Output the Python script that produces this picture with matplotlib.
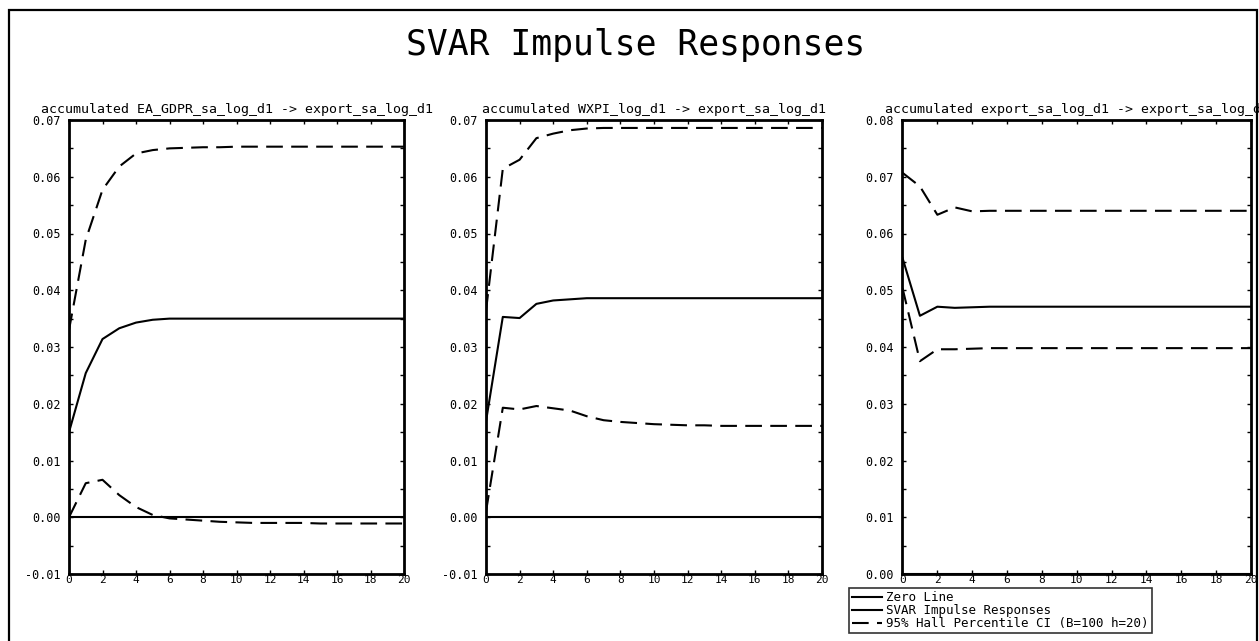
# -*- coding: utf-8 -*-
"""
SVAR impulse responses (accumulated), 3 panels
"""

import numpy as np
import matplotlib
matplotlib.use("Agg")
import matplotlib.pyplot as plt
from matplotlib.patches import Rectangle
from matplotlib.ticker import MultipleLocator, FormatStrFormatter

plt.rcParams['font.family'] = ['DejaVu Sans Mono', 'DejaVu Sans']

### data : horizon 0..20
horizon = list(range(21))

panel_titles = ["accumulated EA_GDPR_sa_log_d1 -> export_sa_log_d1",
                "accumulated WXPI_log_d1 -> export_sa_log_d1",
                "accumulated export_sa_log_d1 -> export_sa_log_d1"]

# 1) EA_GDPR -> export
irf_gdp = [0.0150, 0.0254, 0.0314, 0.0333, 0.0343, 0.0348, 0.0350, 0.0350, 0.0350, 0.0350,
           0.0350, 0.0350, 0.0350, 0.0350, 0.0350, 0.0350, 0.0350, 0.0350, 0.0350, 0.0350, 0.0350]
up_gdp = [0.0330, 0.0489, 0.0577, 0.0618, 0.0641, 0.0647, 0.0650, 0.0651, 0.0652, 0.0652,
          0.0653, 0.0653, 0.0653, 0.0653, 0.0653, 0.0653, 0.0653, 0.0653, 0.0653, 0.0653, 0.0653]
lo_gdp = [0.0000, 0.0060, 0.0066, 0.0039, 0.0018, 0.0004, -0.0002, -0.0004, -0.0006, -0.0008,
          -0.0009, -0.0010, -0.0010, -0.0010, -0.0010, -0.0011, -0.0011, -0.0011, -0.0011, -0.0011, -0.0011]

# 2) WXPI -> export
irf_wxpi = [0.0169, 0.0353, 0.0351, 0.0376, 0.0382, 0.0384, 0.0386, 0.0386, 0.0386, 0.0386,
            0.0386, 0.0386, 0.0386, 0.0386, 0.0386, 0.0386, 0.0386, 0.0386, 0.0386, 0.0386, 0.0386]
up_wxpi = [0.0364, 0.0614, 0.0630, 0.0668, 0.0676, 0.0682, 0.0685, 0.0686, 0.0686, 0.0686,
           0.0686, 0.0686, 0.0686, 0.0686, 0.0686, 0.0686, 0.0686, 0.0686, 0.0686, 0.0686, 0.0686]
lo_wxpi = [0.0010, 0.0193, 0.0190, 0.0196, 0.0192, 0.0188, 0.0178, 0.0171, 0.0168, 0.0166,
           0.0164, 0.0163, 0.0162, 0.0162, 0.0161, 0.0161, 0.0161, 0.0161, 0.0161, 0.0161, 0.0161]

# 3) export -> export
irf_exp = [0.0557, 0.0455, 0.0471, 0.0469, 0.0470, 0.0471, 0.0471, 0.0471, 0.0471, 0.0471,
           0.0471, 0.0471, 0.0471, 0.0471, 0.0471, 0.0471, 0.0471, 0.0471, 0.0471, 0.0471, 0.0471]
up_exp = [0.0707, 0.0683, 0.0633, 0.0646, 0.0639, 0.0640, 0.0640, 0.0640, 0.0640, 0.0640,
          0.0640, 0.0640, 0.0640, 0.0640, 0.0640, 0.0640, 0.0640, 0.0640, 0.0640, 0.0640, 0.0640]
lo_exp = [0.0504, 0.0375, 0.0396, 0.0396, 0.0397, 0.0398, 0.0398, 0.0398, 0.0398, 0.0398,
          0.0398, 0.0398, 0.0398, 0.0398, 0.0398, 0.0398, 0.0398, 0.0398, 0.0398, 0.0398, 0.0398]

irfs = [irf_gdp, irf_wxpi, irf_exp]
uppers = [up_gdp, up_wxpi, up_exp]
lowers = [lo_gdp, lo_wxpi, lo_exp]
ylims = [(-0.01, 0.07), (-0.01, 0.07), (0.0, 0.08)]

legend_labels = ["Zero Line", "SVAR Impulse Responses", "95% Hall Percentile CI (B=100 h=20)"]

### figure
W, H = 1259, 641
fig = plt.figure(figsize=(W / 100, H / 100), dpi=100)

# outer frame
fig.patches.append(Rectangle((9 / W, -0.02), (1257 - 9) / W, 1.02 - 10 / H,
                             transform=fig.transFigure, fill=False,
                             edgecolor="black", linewidth=1.6))

fig.text(0.505, 1 - 45 / H, "SVAR Impulse Responses", ha="center", va="center",
         fontsize=25)

# axes position (pixel)
lefts = [69, 486, 902.5]
widths = [335, 336, 348.5]
bottom = 1 - 574 / H
height = (574 - 120) / H

dash = (0, (8, 4))
for i in range(3):
    ax = fig.add_axes([lefts[i] / W, bottom, widths[i] / W, height])
    ax.plot(horizon, [0.0] * len(horizon), color="black", lw=1.5, label=legend_labels[0])
    ax.plot(horizon, irfs[i], color="black", lw=1.5, label=legend_labels[1])
    ax.plot(horizon, uppers[i], color="black", lw=1.5, ls=dash, label=legend_labels[2])
    ax.plot(horizon, lowers[i], color="black", lw=1.5, ls=dash)

    ax.set_xlim(0, 20)
    ax.set_ylim(*ylims[i])
    ax.xaxis.set_major_locator(MultipleLocator(2))
    ax.yaxis.set_major_locator(MultipleLocator(0.01))
    ax.yaxis.set_minor_locator(MultipleLocator(0.005))
    ax.yaxis.set_major_formatter(FormatStrFormatter("%.2f"))
    ax.tick_params(which="both", direction="in", top=True, right=True,
                   length=3, width=1, labelsize=8, pad=2)
    ax.tick_params(axis="y", labelsize=8.5, pad=6)
    ax.tick_params(axis="x", pad=1)
    for sp in ax.spines.values():
        sp.set_linewidth(2)
    ax.set_title(panel_titles[i], fontsize=9.5, pad=5)

    if i == 0:
        handles, labels = ax.get_legend_handles_labels()

# legend
leg = fig.legend(handles, labels, loc="upper left",
                 bbox_to_anchor=(849 / W, 1 - 588 / H),
                 fontsize=9, frameon=True, fancybox=False,
                 handlelength=2.4, handletextpad=0.3, borderpad=0.25,
                 labelspacing=0.0, borderaxespad=0)
leg.get_frame().set_edgecolor("black")
leg.get_frame().set_linewidth(1.2)

fig.savefig("out.png", dpi=100)
